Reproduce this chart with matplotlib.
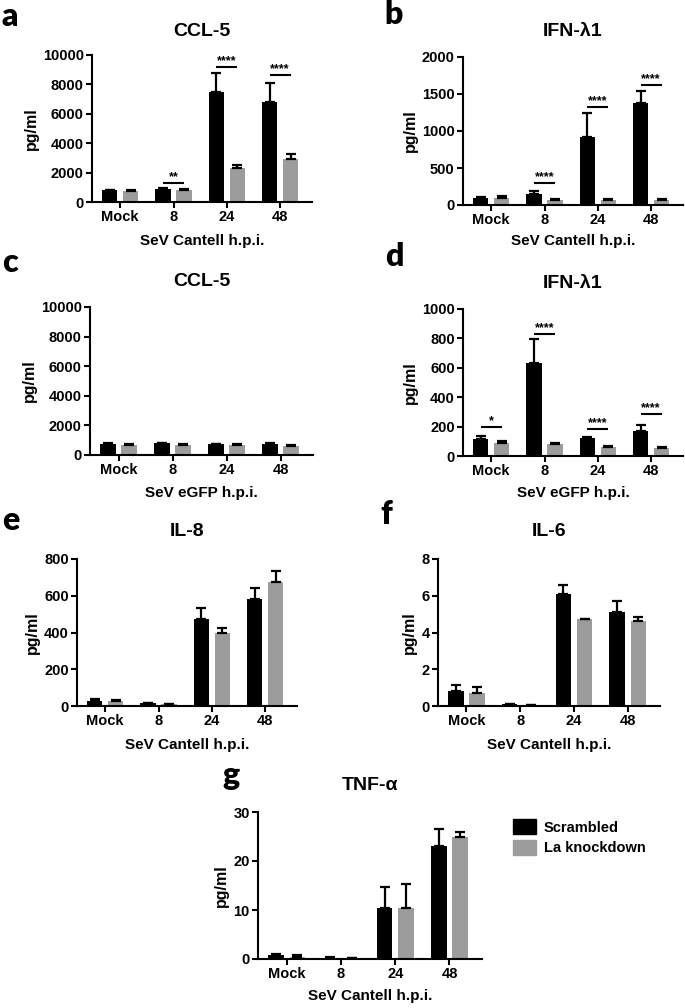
import numpy as np
import matplotlib
matplotlib.use("Agg")
import matplotlib.pyplot as plt
from matplotlib.patches import Patch

plt.rcParams['font.family'] = ['Liberation Sans', 'DejaVu Sans']
plt.rcParams['font.weight'] = 'bold'

W, H = 685, 1008
groups = ["Mock", "8", "24", "48"]
BLACK = "#000000"
GRAY = "#9c9c9c"

# panel a: CCL-5, SeV Cantell
a_scr = [800, 900, 7500, 6800]
a_scr_err = [50, 60, 1300, 1300]
a_kd = [750, 800, 2300, 2950]
a_kd_err = [100, 80, 200, 300]
a_sig = [(1, "**", 1300), (2, "****", 9200), (3, "****", 8650)]

# panel b: IFN-lambda1, SeV Cantell
b_scr = [100, 145, 920, 1380]
b_scr_err = [10, 40, 320, 160]
b_kd = [100, 65, 70, 65]
b_kd_err = [20, 10, 10, 10]
b_sig = [(1, "****", 295), (2, "****", 1318), (3, "****", 1625)]

# panel c: CCL-5, SeV eGFP
c_scr = [750, 780, 720, 740]
c_scr_err = [30, 50, 30, 50]
c_kd = [700, 700, 650, 620]
c_kd_err = [50, 60, 80, 80]
c_sig = []

# panel d: IFN-lambda1, SeV eGFP
d_scr = [114, 632, 120, 170]
d_scr_err = [25, 163, 12, 41]
d_kd = [91, 82, 64, 52]
d_kd_err = [9, 4, 6, 9]
d_sig = [(0, "*", 195), (1, "****", 830), (2, "****", 182), (3, "****", 284)]

# panel e: IL-8
e_scr = [29, 15, 473, 584]
e_scr_err = [9, 3, 60, 60]
e_kd = [27, 9, 396, 676]
e_kd_err = [4, 4, 26, 57]

# panel f: IL-6
f_scr = [0.82, 0.09, 6.11, 5.11]
f_scr_err = [0.33, 0.04, 0.49, 0.62]
f_kd = [0.73, 0.05, 4.71, 4.65]
f_kd_err = [0.32, 0.02, 0.04, 0.2]

# panel g: TNF-alpha
g_scr = [0.8, 0.3, 10.5, 23.0]
g_scr_err = [0.15, 0.05, 4.2, 3.5]
g_kd = [0.45, 0.25, 10.5, 24.8]
g_kd_err = [0.35, 0.05, 4.8, 1.2]

fig = plt.figure(figsize=(W / 100, H / 100), dpi=100)


def px_axes(l, t, r, b):
    return fig.add_axes([l / W, 1 - b / H, (r - l) / W, (b - t) / H])


def panel(box, scr, scr_err, kd, kd_err, ymax, step, title, xlabel, letter,
          letter_xy, title_y, xlabel_y, sig=()):
    ax = px_axes(*box)
    x = np.arange(len(groups))
    off, w = 0.197, 0.29
    ax.bar(x - off, scr, w, color=BLACK, zorder=2)
    ax.bar(x + off, kd, w, color=GRAY, zorder=2)
    ax.errorbar(x - off, scr, yerr=[np.zeros(4), scr_err], fmt='none',
                ecolor='black', elinewidth=1.6, capsize=3.5, capthick=1.6, zorder=3)
    ax.errorbar(x + off, kd, yerr=[np.zeros(4), kd_err], fmt='none',
                ecolor='black', elinewidth=1.6, capsize=3.5, capthick=1.6, zorder=3)
    for i, stars, y in sig:
        ax.plot([i - off, i + off], [y, y], color='black', lw=1.5,
                solid_capstyle='butt')
        ax.text(i, y, stars, ha='center', va='bottom',
                fontsize=9, fontweight='bold')
    ax.set_xlim(-0.53, 3.6)
    ax.set_ylim(0, ymax)
    ax.set_yticks(np.arange(0, ymax + step / 2, step))
    ax.set_xticks(x)
    ax.set_xticklabels(groups)
    ax.tick_params(labelsize=10.5, width=1.5, length=4, pad=2)
    for s in ['top', 'right']:
        ax.spines[s].set_visible(False)
    for s in ['left', 'bottom']:
        ax.spines[s].set_linewidth(1.5)
    ax.set_ylabel("pg/ml", fontsize=11.5, fontweight='bold', labelpad=3)
    cx = (box[0] + box[2]) / 2
    fig.text(cx / W, 1 - title_y / H, title, ha='center', va='center',
             fontsize=14, fontweight='bold')
    fig.text(cx / W, 1 - xlabel_y / H, xlabel, ha='center', va='center',
             fontsize=11, fontweight='bold')
    fig.text(letter_xy[0] / W, 1 - letter_xy[1] / H, letter, ha='left',
             va='center', fontsize=23, fontweight='heavy', family='Lato')
    return ax


panel((92, 55, 312, 202), a_scr, a_scr_err, a_kd, a_kd_err, 10000, 2000,
      "CCL-5", "SeV Cantell h.p.i.", "a", (2, 16), 31, 241, a_sig)
panel((463, 57, 683, 205), b_scr, b_scr_err, b_kd, b_kd_err, 2000, 500,
      "IFN-λ1", "SeV Cantell h.p.i.", "b", (384, 14), 31, 241, b_sig)
panel((90, 307, 313, 455), c_scr, c_scr_err, c_kd, c_kd_err, 10000, 2000,
      "CCL-5", "SeV eGFP h.p.i.", "c", (2, 262), 282, 493, c_sig)
panel((463, 309, 683, 456), d_scr, d_scr_err, d_kd, d_kd_err, 1000, 200,
      "IFN-λ1", "SeV eGFP h.p.i.", "d", (385, 256), 283, 493, d_sig)
panel((77, 559, 297, 706), e_scr, e_scr_err, e_kd, e_kd_err, 800, 200,
      "IL-8", "SeV Cantell h.p.i.", "e", (2, 520), 532, 745)
panel((438, 559, 660, 706), f_scr, f_scr_err, f_kd, f_kd_err, 8, 2,
      "IL-6", "SeV Cantell h.p.i.", "f", (380, 515), 532, 745)
panel((258, 812, 482, 959), g_scr, g_scr_err, g_kd, g_kd_err, 30, 10,
      "TNF-α", "SeV Cantell h.p.i.", "g", (222, 775), 785, 996)

handles = [Patch(color=BLACK, label="Scrambled"),
           Patch(color=GRAY, label="La knockdown")]
fig.legend(handles=handles, loc='upper left', bbox_to_anchor=(500 / W, 1 - 806 / H),
           frameon=False, prop={'size': 10.5, 'weight': 'bold'},
           handlelength=1.6, handleheight=1.2, handletextpad=0.5, labelspacing=0.35)

fig.savefig("out.png", dpi=100)
